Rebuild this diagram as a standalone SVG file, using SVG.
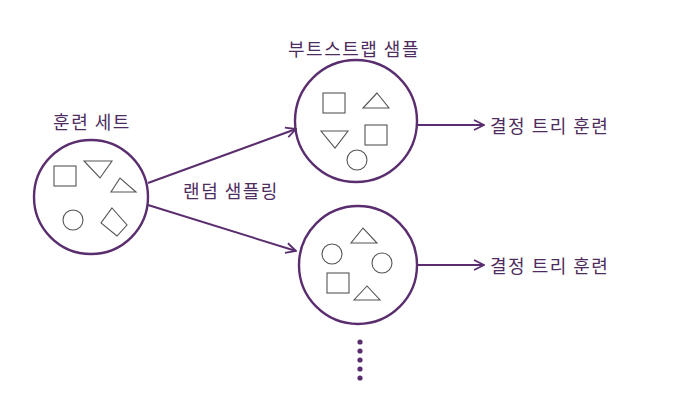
<svg xmlns="http://www.w3.org/2000/svg" width="682" height="418" viewBox="0 0 682 418">
<style>
.ring{fill:none;stroke:#5a2d6e;stroke-width:2.4}
.sh{fill:none;stroke:#555;stroke-width:1.1}
.con{fill:none;stroke:#5a2d6e;stroke-width:2}
.lbl{font-family:"Noto Sans CJK KR","Noto Sans",sans-serif;font-size:18px;letter-spacing:1.5px;fill:#4e2c5e}
</style>
<defs>
<marker id="arr" viewBox="0 0 12 12" refX="11" refY="6" markerWidth="12" markerHeight="12" markerUnits="userSpaceOnUse" orient="auto">
<polyline points="1,1 11,6 1,11" fill="none" stroke="#5a2d6e" stroke-width="1.8"/>
</marker>
</defs>
<rect width="682" height="418" fill="#fff"/>
<g id="training-set">
<circle class="ring" cx="91" cy="197" r="57"/>
<text class="lbl" x="92" y="129" text-anchor="middle">훈련 세트</text>
<rect class="sh" x="54" y="166" width="22" height="20"/>
<polygon class="sh" points="84,161 112,161 100,178"/>
<polygon class="sh" points="120,178 111,192 136,192"/>
<circle class="sh" cx="73" cy="220" r="10"/>
<polygon class="sh" points="112,208 127,225 117,236 101,223"/>
</g>
<g id="bootstrap-1">
<circle class="ring" cx="356" cy="121" r="61"/>
<text class="lbl" x="354" y="56" text-anchor="middle">부트스트랩 샘플</text>
<rect class="sh" x="323" y="93" width="22" height="20"/>
<polygon class="sh" points="377,93 363,108 389,108"/>
<polygon class="sh" points="321,131 348,131 335,148"/>
<rect class="sh" x="365" y="125" width="22" height="20"/>
<circle class="sh" cx="357" cy="160" r="10"/>
</g>
<g id="bootstrap-2">
<circle class="ring" cx="358" cy="265" r="59"/>
<polygon class="sh" points="363,228 351,243 377,243"/>
<circle class="sh" cx="332" cy="254" r="10"/>
<circle class="sh" cx="382" cy="263" r="10"/>
<rect class="sh" x="327" y="273" width="22" height="20"/>
<polygon class="sh" points="367,286 354,300 380,300"/>
</g>
<g id="tree-1">
<text class="lbl" x="490" y="133">결정 트리 훈련</text>
</g>
<g id="tree-2">
<text class="lbl" x="490" y="273">결정 트리 훈련</text>
</g>
<g id="more">
<circle cx="360" cy="342" r="2.6" fill="#5a2d6e"/>
<circle cx="360" cy="351" r="2.6" fill="#5a2d6e"/>
<circle cx="360" cy="360" r="2.6" fill="#5a2d6e"/>
<circle cx="360" cy="369" r="2.6" fill="#5a2d6e"/>
<circle cx="360" cy="378" r="2.6" fill="#5a2d6e"/>
</g>
<g id="connectors">
<line class="con" x1="148" y1="183" x2="296" y2="129" marker-end="url(#arr)"/>
<line class="con" x1="148" y1="205" x2="296" y2="251" marker-end="url(#arr)"/>
<line class="con" x1="418" y1="125" x2="484" y2="125" marker-end="url(#arr)"/>
<line class="con" x1="418" y1="265" x2="484" y2="265" marker-end="url(#arr)"/>
<text class="lbl" x="231" y="198" text-anchor="middle">랜덤 샘플링</text>
</g>
</svg>
